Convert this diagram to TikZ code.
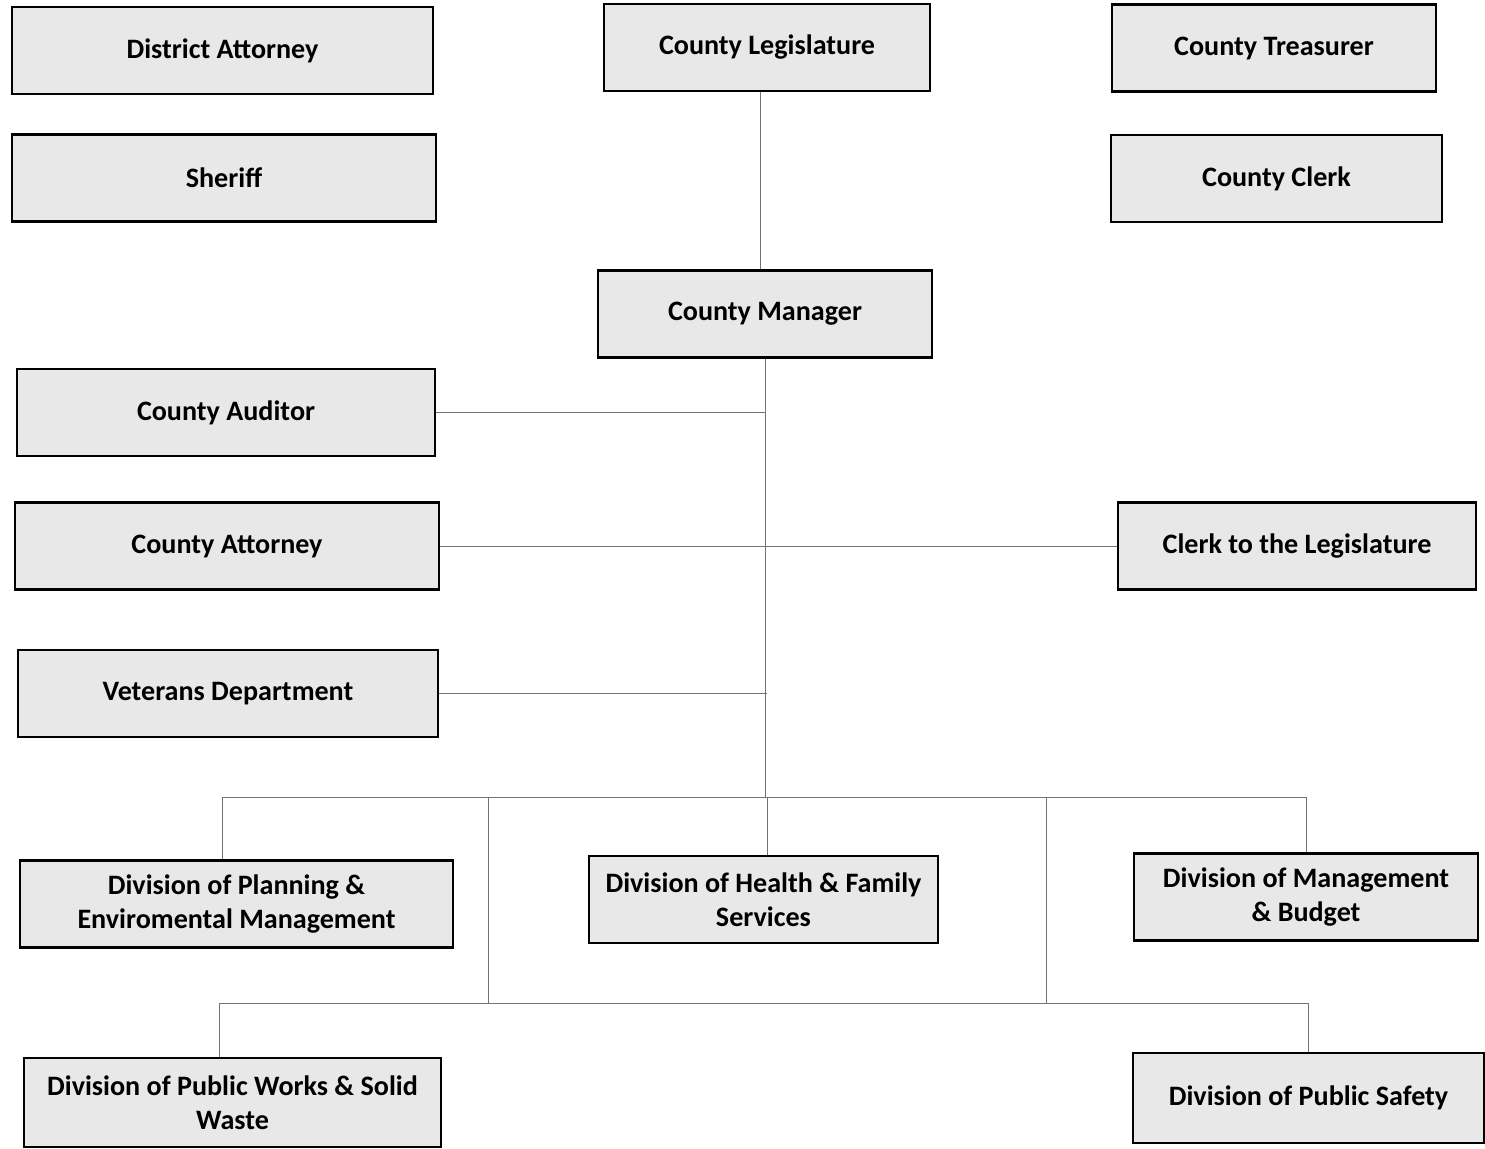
\documentclass[tikz,border=0pt]{standalone}
\usepackage{fontspec}
\setmainfont{Carlito}
\usetikzlibrary{positioning}

\begin{document}
\begin{tikzpicture}[x=0.02cm,y=-0.02cm,
			box/.style={
				draw,
				line width=1.5pt,
				fill=black!9,
				minimum height=1.74cm,
				align=center,
				inner sep=2pt,
				font=\fontsize{16}{19.5}\selectfont\bfseries
			},
			conn/.style={draw=black!55,line width=0.5pt}]
			
			\useasboundingbox (0,0) rectangle (1485,1149);
			
			\node (da)[box,minimum width=8.42cm] at (222.5,50.5){District Attorney};
			
			\node (sheriff)[box,minimum width=8.48cm] at (224,178){Sheriff};
			
			\node (leg)[box,minimum width=6.52cm] at (767,47.5){County Legislature};
			
			\node (treas)[box,minimum width=6.48cm] at (1274,48){County Treasurer};
			
			\node (clerk)[box,minimum width=6.62cm] at (1276.5,178.5){County Clerk};
			
			\node (mgr)[box,minimum width=6.68cm] at (765,314){County Manager};
			
			\node (aud)[box,minimum width=8.36cm] at (226,412.5){County Auditor};
			
			\node (att)[box,minimum width=8.48cm] at (227,546){County Attorney};
			
			\node (ctl)[box,minimum width=7.16cm] at (1297,546){Clerk to the Legislature};
			
			\node (vet)[box,minimum width=8.4cm] at (228,693.5){Veterans Department};
			
			\node (plan)[box,minimum width=8.66cm] at (236.5,904){Division of Planning \&\\Enviromental Management};
			
			\node (hfs)[box,minimum width=6.98cm] at (763.5,899.5){Division of Health \& Family\\Services};
			
			\node (mb)[box,minimum width=6.88cm] at (1306,897){Division of Management\\\& Budget};
			
			\node (pw)[box,minimum width=8.34cm,minimum height=1.78cm] at (232.5,1102.5){Division of Public Works \& Solid\\Waste};
			
			\node (ps)[box,minimum width=7.02cm,minimum height=1.8cm] at (1308.5,1098){Division of Public Safety};
			
			\coordinate (bus) at (767,797);
			\coordinate (lowl) at (488,797);
			\coordinate (lowr) at (1046,797);
			\coordinate (bus2) at (767,1003);
			
			\draw[conn]([xshift=-0.14cm]leg.south)--([xshift=-0.14cm]leg.south |- mgr.north);
			
			\draw[conn](mgr)--(mgr.south |- bus);
			
			\draw[conn](aud)--(aud.east -| mgr.south);
			
			\draw[conn](att)--(ctl);
			
			\draw[conn](vet)--(vet.east -| bus);
			
			\draw[conn]([xshift=-0.28cm]plan.north)|-(mb.north |- bus)--(mb.north);
			
			\draw[conn](bus)--(hfs.north -| bus);
			
			\draw[conn](lowl)--(lowl |- bus2);
			
			\draw[conn](lowr)--(lowr |- bus2);
			
			\draw[conn]([xshift=-0.27cm]pw.north)|-(ps.north |- bus2)--(ps.north);
			
		\end{tikzpicture}
\end{document}
